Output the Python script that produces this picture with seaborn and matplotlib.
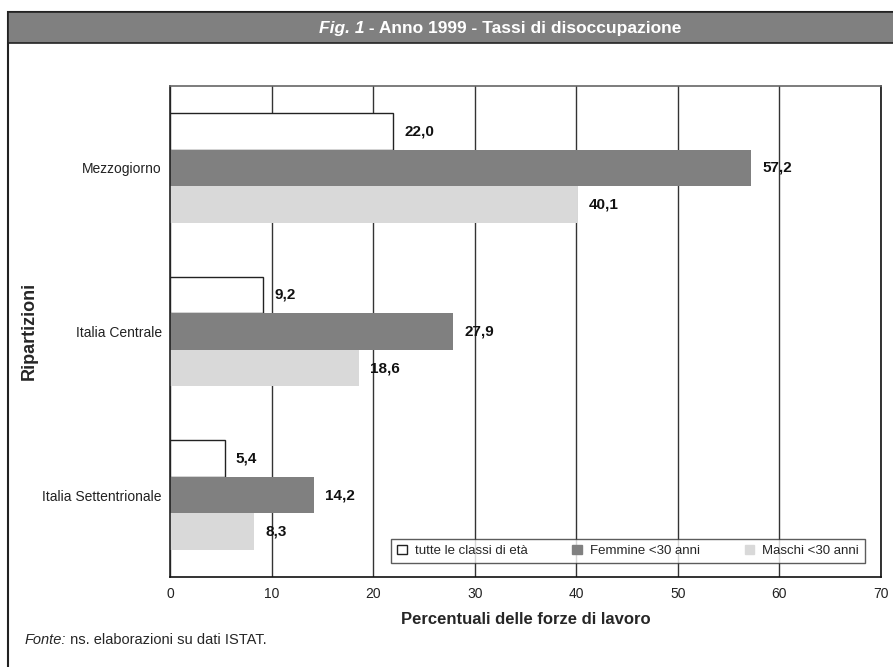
import matplotlib
matplotlib.use("Agg")
import matplotlib.pyplot as plt
import seaborn as sns
import pandas as pd
from matplotlib.patches import Rectangle, Patch
from matplotlib.ticker import FixedLocator

# ---- data ----
categories = ["Mezzogiorno", "Italia Centrale", "Italia Settentrionale"]
series = ["tutte le classi di età", "Femmine <30 anni", "Maschi <30 anni"]
tutte = [22.0, 9.2, 5.4]
femmine = [57.2, 27.9, 14.2]
maschi = [40.1, 18.6, 8.3]
x_ticks = [0, 10, 20, 30, 40, 50, 60, 70]
colors = ["#ffffff", "#808080", "#d9d9d9"]

rows = []
for s, vals in zip(series, [tutte, femmine, maschi]):
    for c, v in zip(categories, vals):
        rows.append({"Ripartizione": c, "Serie": s, "Valore": v})
df = pd.DataFrame(rows)

sns.set_style("white")
plt.rcParams["font.family"] = ["Liberation Sans", "DejaVu Sans"]

W, H = 893, 667
fig = plt.figure(figsize=(W / 100, H / 100), dpi=100)
ax = fig.add_axes([170 / W, 1 - 577 / H, (881 - 170) / W, (577 - 86) / H])

sns.barplot(data=df, y="Ripartizione", x="Valore", hue="Serie", order=categories,
            hue_order=series, palette=colors, width=0.67, orient="h",
            linewidth=0, saturation=1, legend=False, ax=ax)

for p in ax.containers[0]:
    p.set_edgecolor("#222222")
    p.set_linewidth(1.0)

for cont in ax.containers:
    vals = [b.get_width() for b in cont]
    ax.bar_label(cont, labels=[f"{v:.1f}".replace(".", ",") for v in vals],
                 padding=8, fontsize=11, fontweight="bold", color="#111111")

ax.set_xlim(0, 70)
ax.set_ylim(2.5, -0.5)
ax.set_xticks(x_ticks)
ax.set_xticklabels([str(t) for t in x_ticks], fontsize=10, color="#222222")
ax.tick_params(axis="x", length=0, pad=7)
ax.tick_params(axis="y", which="major", length=0, pad=6, labelsize=10, labelcolor="#222222")
ax.yaxis.set_minor_locator(FixedLocator([-0.5, 0.5, 1.5, 2.5]))
ax.tick_params(axis="y", which="minor", length=4, width=1, color="#333333", direction="out")

ax.grid(axis="x", color="#333333", linewidth=1)
ax.set_axisbelow(True)
for side, col in [("left", "#222222"), ("right", "#111111"), ("bottom", "#111111"), ("top", "#666666")]:
    ax.spines[side].set_visible(True)
    ax.spines[side].set_color(col)
    ax.spines[side].set_linewidth(1.2)

ax.set_xlabel("Percentuali delle forze di lavoro", fontsize=12, fontweight="bold", labelpad=8)
ax.set_ylabel("")
fig.text(29 / W, 1 - 331 / H, "Ripartizioni", rotation=90, fontsize=13,
         fontweight="bold", ha="center", va="center")

handles = [Patch(facecolor=c, edgecolor=("#222222" if i == 0 else c), linewidth=1)
           for i, c in enumerate(colors)]
leg = ax.legend(handles, series, ncol=3, loc="lower left", mode="expand",
                bbox_to_anchor=(0.311, 0.0285, 0.6665, 0.057), fontsize=9.5,
                frameon=True, fancybox=False, handlelength=0.75, handleheight=0.75,
                handletextpad=0.6, borderaxespad=0, borderpad=0.45)
leg.get_frame().set_edgecolor("#333333")
leg.get_frame().set_linewidth(1.0)

# outer frame and title band
fig.patches.append(Rectangle((8 / W, -0.1), 1.2, (1 - 12 / H) + 0.1, transform=fig.transFigure,
                             facecolor="none", edgecolor="#222222", linewidth=1.5, zorder=0))
fig.patches.append(Rectangle((8 / W, 1 - 43 / H), 1.2, 31 / H, transform=fig.transFigure,
                             facecolor="#808080", edgecolor="#222222", linewidth=1.2, zorder=0))

tfam = ["Liberation Sans Narrow", "Liberation Sans", "DejaVu Sans"]
ty = 1 - 28 / H
t1 = fig.text(0, ty, "Fig. 1", fontsize=12.5, style="italic", fontweight="bold", color="white",
              family=tfam, ha="left", va="center")
t2 = fig.text(0, ty, " - Anno 1999 - Tassi di disoccupazione", fontsize=12.5, fontweight="bold",
              color="white", family=tfam, ha="left", va="center")
fig.canvas.draw()
r = fig.canvas.get_renderer()
w1 = t1.get_window_extent(r).width
w2 = t2.get_window_extent(r).width
x0 = 500 - (w1 + w2) / 2
t1.set_x(x0 / W)
t2.set_x((x0 + w1) / W)

fig.text(25 / W, 1 - 640 / H, "Fonte:", fontsize=10.5, style="italic", ha="left", va="center")
fig.canvas.draw()
wf = fig.texts[-1].get_window_extent(r).width
fig.text((25 + wf) / W, 1 - 640 / H, " ns. elaborazioni su dati ISTAT.", fontsize=10.5,
         ha="left", va="center")

fig.savefig("out.png", dpi=100)
